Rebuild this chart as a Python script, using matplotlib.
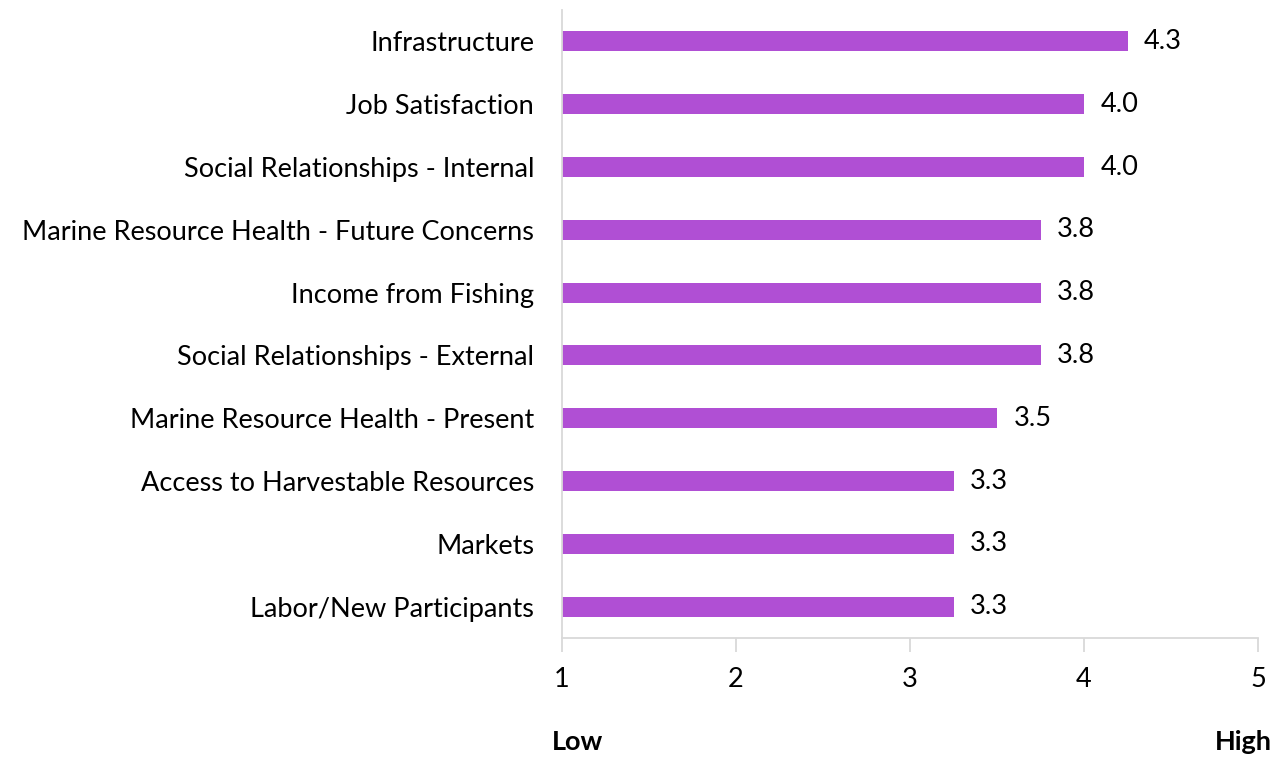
import matplotlib
matplotlib.use("Agg")
import matplotlib.pyplot as plt

plt.rcParams['font.family'] = ['Lato', 'DejaVu Sans']

# データ
categories = [
    "Infrastructure",
    "Job Satisfaction",
    "Social Relationships - Internal",
    "Marine Resource Health - Future Concerns",
    "Income from Fishing",
    "Social Relationships - External",
    "Marine Resource Health - Present",
    "Access to Harvestable Resources",
    "Markets",
    "Labor/New Participants",
]
scores = [4.25, 4.0, 4.0, 3.75, 3.75, 3.75, 3.5, 3.25, 3.25, 3.25]
score_labels = ["4.3", "4.0", "4.0", "3.8", "3.8", "3.8", "3.5", "3.3", "3.3", "3.3"]
ticks = [1, 2, 3, 4, 5]

bar_color = "#B04FD4"
axis_color = "#D9D9D9"
fs = 19.5

fig = plt.figure(figsize=(12.84, 7.58), dpi=100)
ax = fig.add_axes([0.4377, 0.1583, 0.5421, 0.8285])

ypos = list(range(len(categories)))
ax.barh(ypos, [s - 1 for s in scores], left=1, height=0.32, color=bar_color)

for y, s, lab in zip(ypos, scores, score_labels):
    ax.text(s + 0.095, y, lab, va="center", ha="left", fontsize=fs, color="black")

ax.set_xlim(1, 5)
ax.set_ylim(len(categories) - 0.5, -0.5)
ax.set_yticks(ypos)
ax.set_yticklabels(categories, fontsize=fs)
ax.set_xticks(ticks)
ax.set_xticklabels([str(t) for t in ticks], fontsize=fs)

for side in ["top", "right"]:
    ax.spines[side].set_visible(False)
for side in ["left", "bottom"]:
    ax.spines[side].set_color(axis_color)
    ax.spines[side].set_linewidth(1.3)

ax.tick_params(axis="y", length=0, pad=20)
ax.tick_params(axis="x", direction="out", length=10, color=axis_color, width=1.3, pad=11)

# 軸の下のラベル
fig.text(552 / 1284, 1 - 742 / 758, "Low", ha="left", va="center", fontsize=fs, fontweight="bold")
fig.text(1272 / 1284, 1 - 742 / 758, "High", ha="right", va="center", fontsize=fs, fontweight="bold")

fig.savefig("out.png", dpi=100)
